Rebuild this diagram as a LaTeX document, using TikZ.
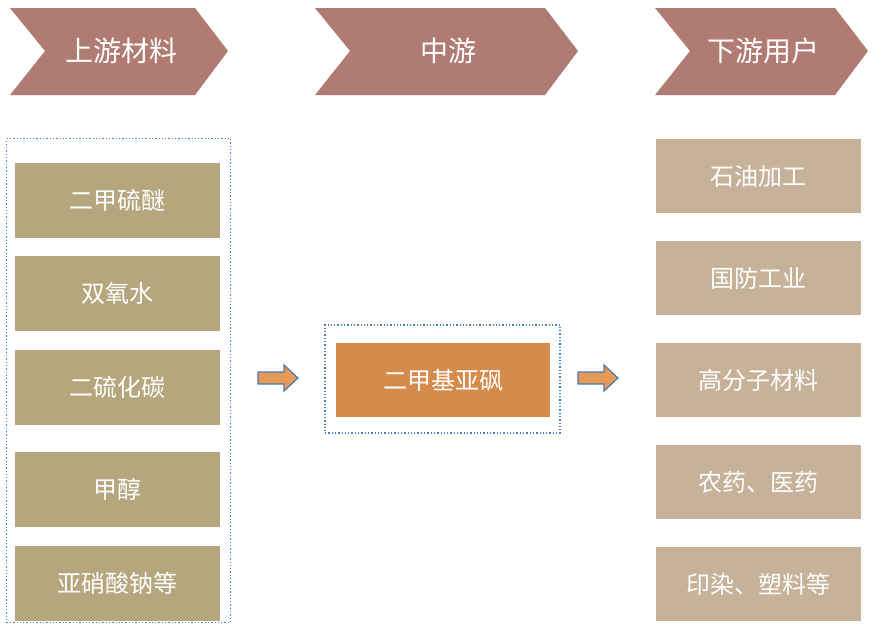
\documentclass[tikz,border=0pt]{standalone}
\usepackage{fontspec}
\setmainfont{Noto Sans CJK SC}
\begin{document}
\begin{tikzpicture}[x=1pt,y=-1pt,
 lbox/.style={fill=lboxc,draw=none,minimum width=205pt,minimum height=75pt,text=white,font=\fontsize{24}{28}\selectfont},
 rbox/.style={fill=rboxc,draw=none,minimum width=205pt,minimum height=74pt,text=white,font=\fontsize{24}{28}\selectfont},
 frame/.style={draw=dotc,dotted,line width=1.3pt},
 arr/.style={fill=arrc,draw=arrd,line width=1.2pt}]
\definecolor{hdrc}{HTML}{B07B72}
\definecolor{lboxc}{HTML}{B5A67E}
\definecolor{rboxc}{HTML}{C6B299}
\definecolor{midc}{HTML}{D58B4B}
\definecolor{dotc}{HTML}{4A7EBB}
\definecolor{arrc}{HTML}{E59A5A}
\definecolor{arrd}{HTML}{4F79A8}
\useasboundingbox (0,0) rectangle (888,624);
\fill[white] (0,0) rectangle (888,624);
\foreach \x/\w/\t/\n in {10/218/上游材料/h1,315/263/中游/h2,655/213/下游用户/h3}{
 \fill[hdrc] (\x,8) -- (\x+\w-33,8) -- (\x+\w,51) -- (\x+\w-33,95) -- (\x,95) -- (\x+35,51) -- cycle;
 \node[text=white,font=\fontsize{28}{32}\selectfont] (\n) at (\x+\w/2+2,51) {\t};
}
\node[frame,minimum width=224pt,minimum height=484pt,anchor=north west] (lf) at (6,138) {};
\node[lbox] (l1) at (117,200) {二甲硫醚};
\node[lbox] (l2) at (117,293) {双氧水};
\node[lbox] (l3) at (117,387) {二硫化碳};
\node[lbox] (l4) at (117,489) {甲醇};
\node[lbox] (l5) at (117,583) {亚硝酸钠等};
\node[frame,minimum width=235pt,minimum height=108pt] (mf) at (442.5,379) {};
\node[fill=midc,minimum width=214pt,minimum height=74pt,text=white,font=\fontsize{24}{28}\selectfont] (m) at (443,380) {二甲基亚砜};
\node[rbox] (r1) at (758,176) {石油加工};
\node[rbox] (r2) at (758,278) {国防工业};
\node[rbox] (r3) at (758,380) {高分子材料};
\node[rbox] (r4) at (758,482) {农药、医药};
\node[rbox] (r5) at (758,584) {印染、塑料等};
\coordinate (a1) at (258,378);
\coordinate (a2) at (578,378);
\foreach \c in {a1,a2}{
 \draw[arr] ([yshift=6]\c) -- ++(26,0) -- ++(0,-7) -- ++(14,13) -- ++(-14,13) -- ++(0,-7) -- ++(-26,0) -- cycle;
}
\end{tikzpicture}
\end{document}
